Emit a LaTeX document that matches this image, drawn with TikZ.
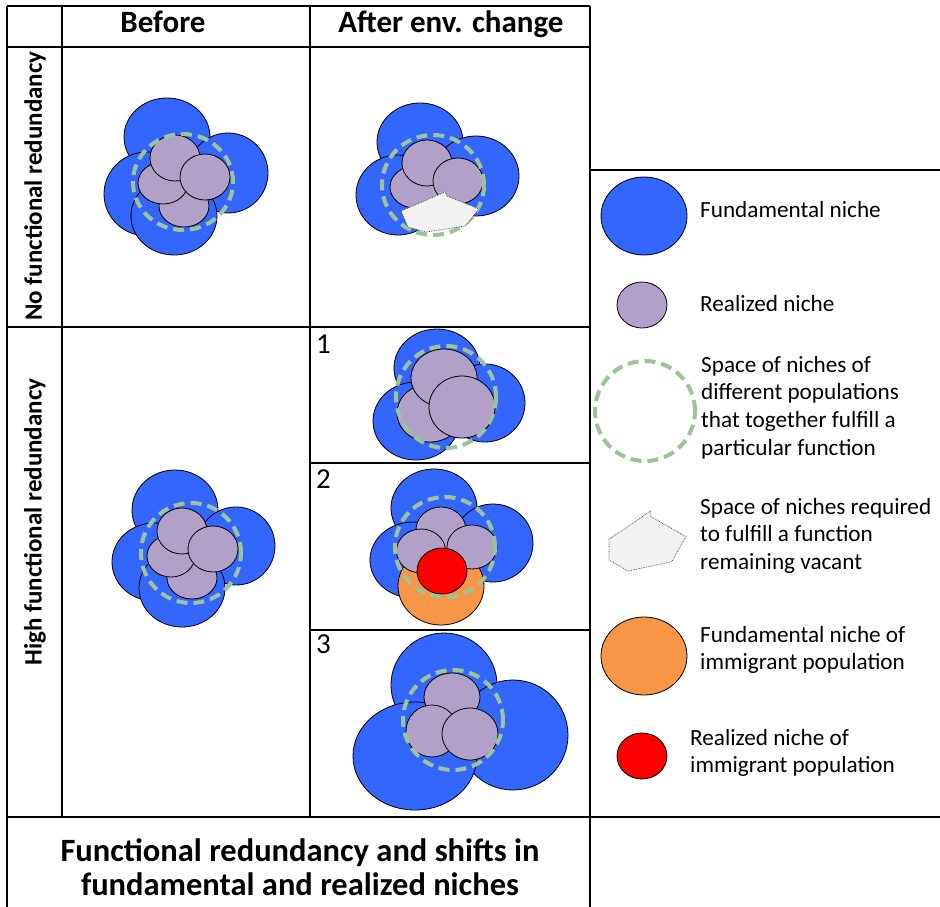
\documentclass[tikz,border=0pt]{standalone}
\usepackage{fontspec}
\setmainfont{Carlito}
\definecolor{fblue}{RGB}{51,102,255}
\definecolor{rpurple}{RGB}{177,160,199}
\definecolor{fgreen}{RGB}{157,195,152}
\definecolor{forange}{RGB}{247,150,70}
\definecolor{rred}{RGB}{255,0,0}
\definecolor{vgray}{RGB}{242,242,242}
\begin{document}
\begin{tikzpicture}[x=1pt,y=-1pt,
  fund/.style={fill=fblue,draw=black,line width=0.8pt},
  real/.style={fill=rpurple,draw=black,line width=0.8pt},
  immf/.style={fill=forange,draw=black,line width=0.8pt},
  immr/.style={fill=rred,draw=black,line width=0.8pt},
  fspace/.style={draw=fgreen,line width=4pt,dash pattern=on 11pt off 6pt},
  vacant/.style={fill=vgray,draw=black!75,line width=0.7pt,densely dotted},
  gridline/.style={draw=black,line width=1.5pt},
  thickline/.style={draw=black,line width=2.6pt},
  hdr/.style={inner sep=0pt,font=\bfseries\fontsize{31}{36}\selectfont},
  rowlab/.style={inner sep=0pt,rotate=90,font=\bfseries\fontsize{25}{30}\selectfont},
  foot/.style={inner sep=0pt,anchor=base,font=\bfseries\fontsize{32.5}{38}\selectfont},
  numlab/.style={inner sep=0pt,anchor=base west,font=\fontsize{29}{34}\selectfont},
  legtxt/.style={inner sep=0pt,anchor=base west,font=\fontsize{23.2}{27}\selectfont}]
\useasboundingbox[fill=white] (0,0) rectangle (940,907);

% ---------- table grid ----------
\draw[gridline] (7,6) -- (590,6);
\draw[gridline] (7,6) -- (7,907);
\draw[thickline] (62,6) -- (62,817);
\draw[gridline] (310,6) -- (310,817);
\draw[gridline] (590,6) -- (590,907);
\draw[gridline] (7,47) -- (590,47);
\draw[gridline] (7,327) -- (590,327);
\draw[gridline] (310,463) -- (590,463);
\draw[gridline] (310,630) -- (590,630);
\draw[gridline] (7,817) -- (940,817);
\draw[gridline] (590,170) -- (940,170);

% ---------- headers ----------
\node[hdr,anchor=base] (hbefore) at (163,33) {Before};
\node[hdr,anchor=base] (hafter) at (451,33) {After env. change};
\node[rowlab] (rno) at (35,186) {No functional redundancy};
\node[rowlab] (rhigh) at (35,522) {High functional redundancy};
\node[numlab] (n1) at (316,353) {1};
\node[numlab] (n2) at (316,488) {2};
\node[numlab] (n3) at (316,653) {3};

% ---------- row 1, before ----------
\draw[fund] (167,137) ellipse [x radius=43pt,y radius=39pt];
\draw[fund] (228,173) ellipse [x radius=40pt,y radius=40pt];
\draw[fund] (147,194) ellipse [x radius=43pt,y radius=42pt];
\draw[fund] (174,216) ellipse [x radius=43pt,y radius=39pt];
\draw[real] (184,206) ellipse [x radius=25pt,y radius=21pt];
\draw[real] (163,183) ellipse [x radius=25pt,y radius=21pt];
\draw[real] (175,158) ellipse [x radius=25pt,y radius=23pt];
\draw[real] (205,177) ellipse [x radius=25pt,y radius=23pt];
\draw[fspace] (183,182) ellipse [x radius=50pt,y radius=48pt];

% ---------- row 1, after ----------
\draw[fund] (420,142) ellipse [x radius=43pt,y radius=39pt];
\draw[fund] (476,176) ellipse [x radius=43pt,y radius=40pt];
\draw[fund] (398,195) ellipse [x radius=42pt,y radius=40pt];
\draw[real] (415,187) ellipse [x radius=25pt,y radius=21pt];
\draw[real] (427,163) ellipse [x radius=25pt,y radius=23pt];
\draw[real] (458,181) ellipse [x radius=25pt,y radius=23pt];
\draw[fspace] (433,185) ellipse [x radius=51pt,y radius=50pt];
\draw[vacant] (401,211) -- (445,192) -- (447,196) -- (479,209) -- (465,226) -- (426,232) -- (408,227) -- cycle;

% ---------- row 2, before ----------
\draw[fund] (175,510) ellipse [x radius=43pt,y radius=40pt];
\draw[fund] (236,546) ellipse [x radius=39pt,y radius=39pt];
\draw[fund] (154,562) ellipse [x radius=42pt,y radius=39pt];
\draw[fund] (182,588) ellipse [x radius=43pt,y radius=39pt];
\draw[real] (192,578) ellipse [x radius=25pt,y radius=21pt];
\draw[real] (171,556) ellipse [x radius=24pt,y radius=21pt];
\draw[real] (182,531) ellipse [x radius=25pt,y radius=23pt];
\draw[real] (213,549) ellipse [x radius=25pt,y radius=23pt];
\draw[fspace] (191,553) ellipse [x radius=50pt,y radius=50pt];

% ---------- row 2, after 1 ----------
\draw[fund] (437,368) ellipse [x radius=43pt,y radius=39pt];
\draw[fund] (485,403) ellipse [x radius=40pt,y radius=39pt];
\draw[fund] (416,421) ellipse [x radius=43pt,y radius=39pt];
\draw[real] (430,413) ellipse [x radius=33pt,y radius=29pt];
\draw[real] (444,378) ellipse [x radius=33pt,y radius=29pt];
\draw[real] (462,407) ellipse [x radius=33pt,y radius=31pt];
\draw[fspace] (446,397) ellipse [x radius=50pt,y radius=51pt];

% ---------- row 2, after 2 ----------
\draw[fund] (434,508) ellipse [x radius=43pt,y radius=39pt];
\draw[fund] (493,543) ellipse [x radius=40pt,y radius=39pt];
\draw[fund] (413,560) ellipse [x radius=43pt,y radius=38pt];
\draw[immf] (441,586) ellipse [x radius=43pt,y radius=39pt];
\draw[real] (441,530) ellipse [x radius=25pt,y radius=23pt];
\draw[real] (421,551) ellipse [x radius=24.5pt,y radius=22pt];
\draw[real] (472,547) ellipse [x radius=25pt,y radius=22pt];
\draw[immr] (442,571) ellipse [x radius=25pt,y radius=23pt];
\draw[fspace] (445,547) ellipse [x radius=50pt,y radius=50pt];

% ---------- row 2, after 3 ----------
\draw[fund] (444,685) ellipse [x radius=53pt,y radius=52pt];
\draw[fund] (513,735) ellipse [x radius=55pt,y radius=55pt];
\draw[fund] (415,756) ellipse [x radius=62pt,y radius=54pt];
\draw[real] (452,697) ellipse [x radius=28pt,y radius=24pt];
\draw[real] (432,731) ellipse [x radius=26pt,y radius=26pt];
\draw[real] (470,734) ellipse [x radius=28pt,y radius=26pt];
\draw[fspace] (453,720) ellipse [x radius=50pt,y radius=50pt];

% ---------- legend ----------
\draw[fund] (644,216) ellipse [x radius=43pt,y radius=39pt];
\node[legtxt] (l1) at (700,217) {Fundamental niche};
\draw[real] (642,305) ellipse [x radius=25pt,y radius=23pt];
\node[legtxt] (l2) at (700,311) {Realized niche};
\draw[fspace] (645,411) ellipse [x radius=50pt,y radius=50pt];
\node[legtxt] (l3a) at (701,372) {Space of niches of};
\node[legtxt] (l3b) at (701,399.7) {different populations};
\node[legtxt] (l3c) at (701,427.4) {that together fulfill a};
\node[legtxt] (l3d) at (701,455) {particular function};
\draw[vacant] (650.7,511) -- (651,516.7) -- (686,536.7) -- (671.7,561.7) -- (628,571) -- (609,560) -- (609,539.3) -- cycle;
\node[legtxt] (l4a) at (700,514) {Space of niches required};
\node[legtxt] (l4b) at (700,541.5) {to fulfill a function};
\node[legtxt] (l4c) at (700,569) {remaining vacant};
\draw[immf] (644,656) ellipse [x radius=43pt,y radius=39pt];
\node[legtxt] (l5a) at (700,642) {Fundamental niche of};
\node[legtxt] (l5b) at (700,669) {immigrant population};
\draw[immr] (642,756) ellipse [x radius=25pt,y radius=23pt];
\node[legtxt] (l6a) at (690,745) {Realized niche of};
\node[legtxt] (l6b) at (690,772) {immigrant population};

% ---------- footer ----------
\node[foot] (f1) at (300,861) {Functional redundancy and shifts in};
\node[foot] (f2) at (300,895) {fundamental and realized niches};
\end{tikzpicture}
\end{document}
